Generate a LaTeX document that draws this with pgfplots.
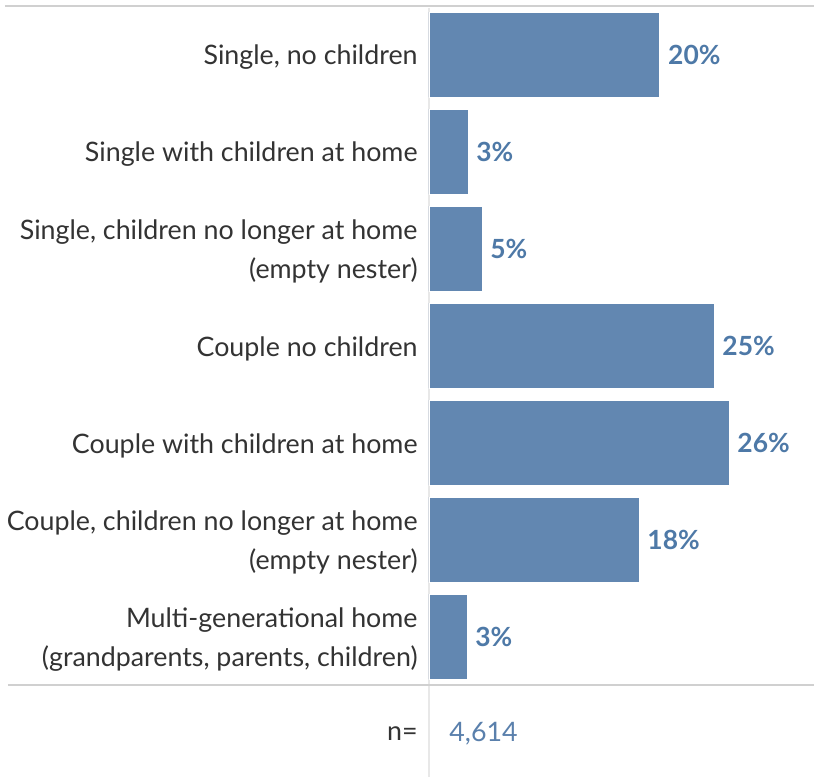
\documentclass[border=0pt]{standalone}
\usepackage{pgfplots}
\pgfplotsset{compat=1.18}
\usepackage{fontspec}
\setmainfont{Lato}
\definecolor{barblue}{HTML}{6287B1}
\definecolor{lblblue}{HTML}{4E79A7}
\definecolor{numblue}{HTML}{5A80AC}
\definecolor{txt}{HTML}{333333}
\definecolor{rule}{HTML}{D0D0D0}
\definecolor{vrule}{HTML}{E8E8E8}
\begin{document}
\begin{tikzpicture}
\path[use as bounding box] (-214.5pt,-46pt) rectangle (192.5pt,342.5pt);
\draw[vrule, line width=0.6pt] (0,338.5pt) -- (0,-46pt);
\draw[rule, line width=1pt] (-212pt,339.5pt) -- (192.5pt,339.5pt);
\draw[rule, line width=0.8pt] (-210.5pt,0pt) -- (192.5pt,0pt);
\begin{axis}[
  at={(0,0)}, anchor=south west,
  scale only axis,
  width=192.5pt, height=339.5pt,
  xbar, bar width=42.5pt,
  xmin=0, xmax=33.36,
  ymin=0.5, ymax=7.5,
  y dir=reverse,
  axis line style={draw=none},
  xtick=\empty,
  ytick={1,...,7},
  yticklabels={
    {Single, no children},
    {Single with children at home},
    {Single, children no longer at home\\(empty nester)},
    {Couple no children},
    {Couple with children at home},
    {Couple, children no longer at home\\(empty nester)},
    {Multi-generational home\\(grandparents, parents, children)}},
  yticklabel style={align=right, font=\fontsize{13.4}{19.5}\selectfont, text=txt, inner sep=0pt, anchor=east, xshift=-5.5pt, yshift=-1.5pt},
  major tick length=0pt,
  /pgf/number format/assume math mode=true,
  nodes near coords={\pgfmathprintnumber[fixed,precision=0,assume math mode=true]{\pgfplotspointmeta}\%},
  point meta=x,
  nodes near coords style={font=\bfseries\fontsize{13.2}{15}\selectfont, text=lblblue, anchor=west, inner sep=0pt, xshift=4pt},
]
\addplot[fill=barblue, draw=white, line width=0.4pt] coordinates {
  (20.0,1) (3.38,2) (4.59,3) (24.7,4) (26.0,5) (18.2,6) (3.29,7)
};
\end{axis}
\node[anchor=east, inner sep=0pt, text=txt, font=\fontsize{13.4}{15}\selectfont] at (-5.5pt,-24.5pt) {n=};
\node[anchor=west, inner sep=0pt, text=numblue, font=\fontsize{13.4}{15}\selectfont] at (10pt,-24.5pt) {4,614};
\end{tikzpicture}
\end{document}
